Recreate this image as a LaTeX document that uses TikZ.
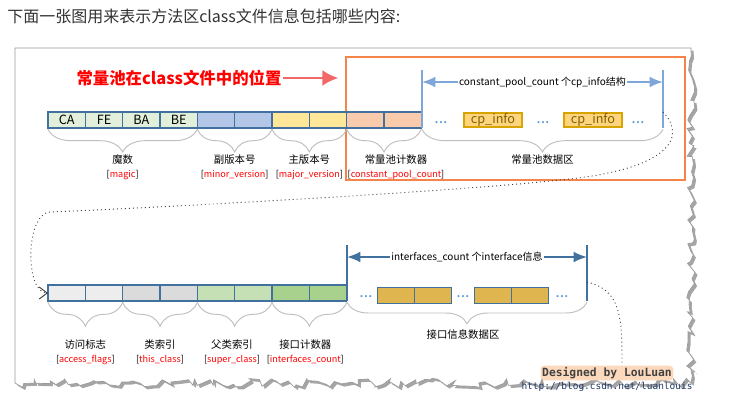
\documentclass[tikz,border=0pt]{standalone}
\usepackage{fontspec}
\setmainfont{Noto Sans CJK SC}
\newfontfamily\codefont{DejaVu Sans Mono}
\usetikzlibrary{arrows.meta,positioning,decorations.pathreplacing,decorations.pathmorphing,shadows}

\definecolor{cellline}{HTML}{41719C}
\definecolor{magicfill}{HTML}{E2EFDA}
\definecolor{minorfill}{HTML}{B4C6E7}
\definecolor{majorfill}{HTML}{FFE699}
\definecolor{countfill}{HTML}{F8CBAD}
\definecolor{accfill}{HTML}{EDEDED}
\definecolor{thisfill}{HTML}{DBDBDB}
\definecolor{superfill}{HTML}{C5E0B4}
\definecolor{ifcfill}{HTML}{A9D18E}
\definecolor{infofill}{HTML}{FFD47F}
\definecolor{infoline}{HTML}{D9A300}
\definecolor{infotext}{HTML}{7F6000}
\definecolor{ifacefill}{HTML}{DEB54F}
\definecolor{bracegray}{HTML}{BFBFBF}
\definecolor{poolblue}{HTML}{7EA6D8}
\definecolor{dotblue}{HTML}{5B9BD5}
\definecolor{frameorange}{HTML}{F4844A}
\definecolor{titlered}{HTML}{FF0000}
\definecolor{arrowred}{HTML}{F26767}
\definecolor{glow}{HTML}{FCD9BD}
\definecolor{urlblue}{HTML}{1F3864}

\tikzset{
  field/.style={draw=cellline, line width=0.8pt, minimum width=28pt, minimum height=12pt,
    inner sep=0pt, outer sep=0pt, font=\fontsize{9.5}{10}\selectfont},
  ifacebox/.style={draw=cellline, line width=0.8pt, fill=ifacefill, minimum width=28pt,
    minimum height=11.5pt, inner sep=0pt, outer sep=0pt},
  cpinfo/.style={draw=infoline, line width=1.5pt, fill=infofill, text=infotext,
    minimum width=43.5pt, minimum height=10.5pt, inner sep=0pt, font=\fontsize{9.5}{10}\selectfont},
  skipdots/.style={text=dotblue, inner sep=0pt, font=\fontsize{12}{12}\selectfont},
  fieldbrace/.style={draw=bracegray, line width=0.7pt, decorate,
    decoration={brace, mirror, amplitude=#1, raise=1pt}},
  fieldlabel/.style={midway, below=#1, align=center, inner sep=1pt,
    font=\fontsize{7.8}{10}\selectfont},
  spanrule/.style={draw=#1, line width=1.5pt},
  spanarrow/.style={draw=#1, line width=1.3pt, <->, >={Latex[length=10pt,width=8pt]}},
  spanlabel/.style={midway, fill=white, inner sep=1pt, font=\fontsize{7.5}{9}\selectfont},
  flowlink/.style={draw=black!75, line width=0.7pt, dash pattern=on 0.7pt off 2.3pt},
  paper/.style={fill=white, draw=black!40, line width=0.5pt,
    drop shadow={shadow xshift=2pt, shadow yshift=-2pt, opacity=0.7},
    decoration={random steps, segment length=4pt, amplitude=3.5pt}},
  poolframe/.style={draw=frameorange, line width=1.6pt, fill=white, minimum width=254pt,
    minimum height=92pt, inner sep=0pt,
    drop shadow={shadow xshift=1.2pt, shadow yshift=-1.2pt, opacity=0.35}},
  poolnote/.style={text=titlered, inner sep=1pt, font=\bfseries\fontsize{12.3}{14}\selectfont},
  callout/.style={draw=arrowred, line width=2.2pt, -{Latex[length=12pt,width=12pt]}, shorten >=5pt},
  headline/.style={text=black!80, inner sep=0pt, font=\fontsize{12}{14}\selectfont},
}

\begin{document}
\begin{tikzpicture}[x=0.75pt, y=-0.75pt]
\useasboundingbox (0,0) rectangle (729,404);
\fill[white] (0,0) rectangle (729,404);

\node[headline, anchor=west] (headline) at (7,16) {下面一张图用来表示方法区class文件信息包括哪些内容:};

% torn sheet
\pgfmathsetseed{11}
\path[paper] (15,48) -- (691,48) decorate {-- (691,383) -- (15,383)} -- cycle;

% constant pool frame and its note
\node[poolframe] (poolbox) at (515.5,118.5) {};
\node[poolnote] (note) at (179,78) {常量池在class文件中的位置};
\draw[callout] (note.east) -- (note.east -| poolbox.west);

% first row
\node[field, fill=magicfill] (ca) at (66.67,120) {CA};
\node[field, fill=magicfill, right=0pt of ca] (fe) {FE};
\node[field, fill=magicfill, right=0pt of fe] (ba) {BA};
\node[field, fill=magicfill, right=0pt of ba] (be) {BE};
\node[field, fill=minorfill, right=0pt of be] (minor1) {};
\node[field, fill=minorfill, right=0pt of minor1] (minor2) {};
\node[field, fill=majorfill, right=0pt of minor2] (major1) {};
\node[field, fill=majorfill, right=0pt of major1] (major2) {};
\node[field, fill=countfill, right=0pt of major2] (cpcount1) {};
\node[field, fill=countfill, right=0pt of cpcount1] (cpcount2) {};

\draw[fieldbrace=17pt] (ca.south west) -- (be.south east)
  node[fieldlabel=19pt] {魔数\\{\fontsize{6.8}{10}\selectfont[\textcolor{titlered}{magic}]}};
\draw[fieldbrace=17pt] (minor1.south west) -- (minor2.south east)
  node[fieldlabel=19pt] {副版本号\\{\fontsize{6.8}{10}\selectfont[\textcolor{titlered}{minor\_version}]}};
\draw[fieldbrace=17pt] (major1.south west) -- (major2.south east)
  node[fieldlabel=19pt] {主版本号\\{\fontsize{6.8}{10}\selectfont[\textcolor{titlered}{major\_version}]}};
\draw[fieldbrace=17pt] (cpcount1.south west) -- (cpcount2.south east)
  node[fieldlabel=19pt, xshift=9pt] {常量池计数器\\{\fontsize{6.8}{10}\selectfont[\textcolor{titlered}{constant\_pool\_count}]}};

% constant pool data
\coordinate (poolTL) at (422,70);
\coordinate (poolBL) at (422,128);
\coordinate (poolTR) at (663,70);
\coordinate (poolBR) at (663,128);
\coordinate (poolL) at (422,82);
\coordinate (poolR) at (663,82);
\draw[spanrule=poolblue] (poolTL) -- (poolBL);
\draw[spanrule=poolblue] (poolTR) -- (poolBR);
\draw[spanarrow=poolblue] (poolL) -- (poolR)
  node[spanlabel] {constant\_pool\_count 个cp\_info结构};

\node[skipdots] (pooldots1) at (441,123) {...};
\node[cpinfo] (info1) at (493,120) {cp\_info};
\node[skipdots] (pooldots2) at (543,123) {...};
\node[cpinfo] (info2) at (593,120) {cp\_info};
\node[skipdots] (pooldots3) at (638,123) {...};

\draw[fieldbrace=17pt] (poolBL) -- (poolBR) node[fieldlabel=19pt] {常量池数据区};

% second row
\node[field, fill=accfill] (acc1) at (66.67,293) {};
\node[field, fill=accfill, right=0pt of acc1] (acc2) {};
\node[field, fill=thisfill, right=0pt of acc2] (this1) {};
\node[field, fill=thisfill, right=0pt of this1] (this2) {};
\node[field, fill=superfill, right=0pt of this2] (super1) {};
\node[field, fill=superfill, right=0pt of super1] (super2) {};
\node[field, fill=ifcfill, right=0pt of super2] (ifcount1) {};
\node[field, fill=ifcfill, right=0pt of ifcount1] (ifcount2) {};

\draw[fieldbrace=18pt] (acc1.south west) -- (acc2.south east)
  node[fieldlabel=28pt] {访问标志\\{\fontsize{6.8}{10}\selectfont[\textcolor{titlered}{access\_flags}]}};
\draw[fieldbrace=18pt] (this1.south west) -- (this2.south east)
  node[fieldlabel=28pt] {类索引\\{\fontsize{6.8}{10}\selectfont[\textcolor{titlered}{this\_class}]}};
\draw[fieldbrace=18pt] (super1.south west) -- (super2.south east)
  node[fieldlabel=28pt, xshift=-2pt] {父类索引\\{\fontsize{6.8}{10}\selectfont[\textcolor{titlered}{super\_class}]}};
\draw[fieldbrace=18pt] (ifcount1.south west) -- (ifcount2.south east)
  node[fieldlabel=28pt, xshift=-3pt] {接口计数器\\{\fontsize{6.8}{10}\selectfont[\textcolor{titlered}{interfaces\_count}]}};

% interface data
\coordinate (ifTL) at (347,245);
\coordinate (ifBL) at (347,301);
\coordinate (ifTR) at (587,245);
\coordinate (ifBR) at (587,301);
\coordinate (ifL) at (347,257);
\coordinate (ifR) at (587,257);
\draw[spanrule=cellline] (ifTL) -- (ifBL);
\draw[spanrule=cellline] (ifTR) -- (ifBR);
\draw[spanarrow=cellline] (ifL) -- (ifR)
  node[spanlabel] {interfaces\_count 个interface信息};

\node[skipdots] (ifdots1) at (366,297) {...};
\node[ifacebox] (iface1) at (395.7,295.5) {};
\node[ifacebox, right=0pt of iface1] (iface2) {};
\node[skipdots] (ifdots2) at (463,297) {...};
\node[ifacebox] (iface3) at (492.7,295.5) {};
\node[ifacebox, right=0pt of iface3] (iface4) {};
\node[skipdots] (ifdots3) at (562,297) {...};

\draw[fieldbrace=16pt] (ifBL) -- (ifBR) node[fieldlabel=20pt, xshift=-3pt] {接口信息数据区};

% dotted links
\coordinate (poolexit) at (663,112);
\coordinate (ifexit) at (587,282);
\coordinate (ifend) at (622,364);
\draw[flowlink, -{Straight Barb[length=6pt,width=9pt,line width=0.7pt]}] (poolexit)
  .. controls (688,138) and (668,170) .. (560,180)
  .. controls (450,192) and (150,208) .. (50,212)
  .. controls (25,214) and (25,293) .. (acc1.west);
\draw[flowlink] (ifexit) .. controls (622,290) and (622,320) .. (ifend);

% signature
\node[fill=glow, rounded corners=3pt, inner sep=1.2pt, text=black!75,
  font=\codefont\bfseries\fontsize{8.5}{9}\selectfont] (design) at (607,373) {Designed by LouLuan};
\node[text=urlblue, inner sep=0pt, font=\codefont\fontsize{7.1}{8}\selectfont] (url) at (607,387) {http://blog.csdn.net/luanlouis};
\end{tikzpicture}
\end{document}
